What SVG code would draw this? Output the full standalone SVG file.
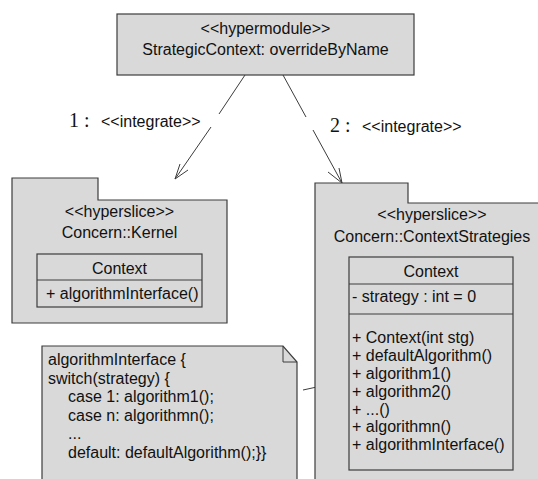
<svg xmlns="http://www.w3.org/2000/svg" width="538" height="479" viewBox="0 0 538 479">
<defs>
<style>
.box{fill:#d9d9d9;stroke:#3c3c3c;stroke-width:1.2}
.ln{fill:none;stroke:#3c3c3c;stroke-width:1}
text{font-family:"Liberation Sans",Arial,sans-serif;font-size:16px;fill:#111}
.c{text-anchor:middle}
.serif{font-family:"Liberation Serif","Times New Roman",serif;font-size:20px}
</style>
</defs>
<rect width="538" height="479" fill="#fff"/>
<g id="connectors">
<path class="ln" d="M245,75 L219,114 M211,127 L175,179 M180,164 L175,179 L188,170"/>
<path class="ln" d="M283,75 L306,117 M313,130 L342,183 M328,172 L342,183 L339,168"/>
<path class="ln" d="M303,390 L349,380"/>
<text class="serif" x="69" y="127">1 :</text>
<text x="101" y="127">&lt;&lt;integrate&gt;&gt;</text>
<text class="serif" x="330" y="132">2 :</text>
<text x="362" y="132">&lt;&lt;integrate&gt;&gt;</text>
</g>
<g id="hypermodule">
<rect class="box" x="117" y="14" width="297" height="61"/>
<text class="c" x="265.5" y="33.5">&lt;&lt;hypermodule&gt;&gt;</text>
<text class="c" x="265.5" y="54.5">StrategicContext: overrideByName</text>
</g>
<g id="kernel">
<path class="box" d="M12,178 L98,178 L98,200 L227,200 L227,323 L12,323 Z"/>
<text class="c" x="119.5" y="217">&lt;&lt;hyperslice&gt;&gt;</text>
<text class="c" x="119.5" y="238">Concern::Kernel</text>
<rect class="box" x="37" y="254" width="165" height="53"/>
<line class="ln" x1="37" y1="280" x2="202" y2="280"/>
<text class="c" x="119.5" y="274">Context</text>
<text x="46" y="298.5">+ algorithmInterface()</text>
</g>
<g id="contextStrategies">
<path class="box" d="M315,183 L408,183 L408,203 L545,203 L545,493 L315,493 Z"/>
<text class="c" x="432" y="220">&lt;&lt;hyperslice&gt;&gt;</text>
<text class="c" x="432" y="241.5">Concern::ContextStrategies</text>
<rect class="box" x="349" y="257" width="164" height="213"/>
<line class="ln" x1="349" y1="284" x2="513" y2="284"/>
<line class="ln" x1="349" y1="314" x2="513" y2="314"/>
<text class="c" x="431" y="276.5">Context</text>
<text x="352" y="302">- strategy : int = 0</text>
<text x="352" y="343">+ Context(int stg)</text>
<text x="352" y="361">+ defaultAlgorithm()</text>
<text x="352" y="379">+ algorithm1()</text>
<text x="352" y="397">+ algorithm2()</text>
<text x="352" y="414.5">+ ...()</text>
<text x="352" y="432">+ algorithmn()</text>
<text x="352" y="450">+ algorithmInterface()</text>
</g>
<g id="note">
<path class="box" d="M42,346 L283,346 L297,362 L297,492 L42,492 Z"/>
<path class="ln" d="M283,346 L283,362 L297,362"/>
<text x="48" y="365">algorithmInterface {</text>
<text x="48" y="383.5">switch(strategy) {</text>
<text x="68" y="402">case 1: algorithm1();</text>
<text x="68" y="420.5">case n: algorithmn();</text>
<text x="68" y="438.5">...</text>
<text x="68" y="457.5">default: defaultAlgorithm();}}</text>
</g>
</svg>
